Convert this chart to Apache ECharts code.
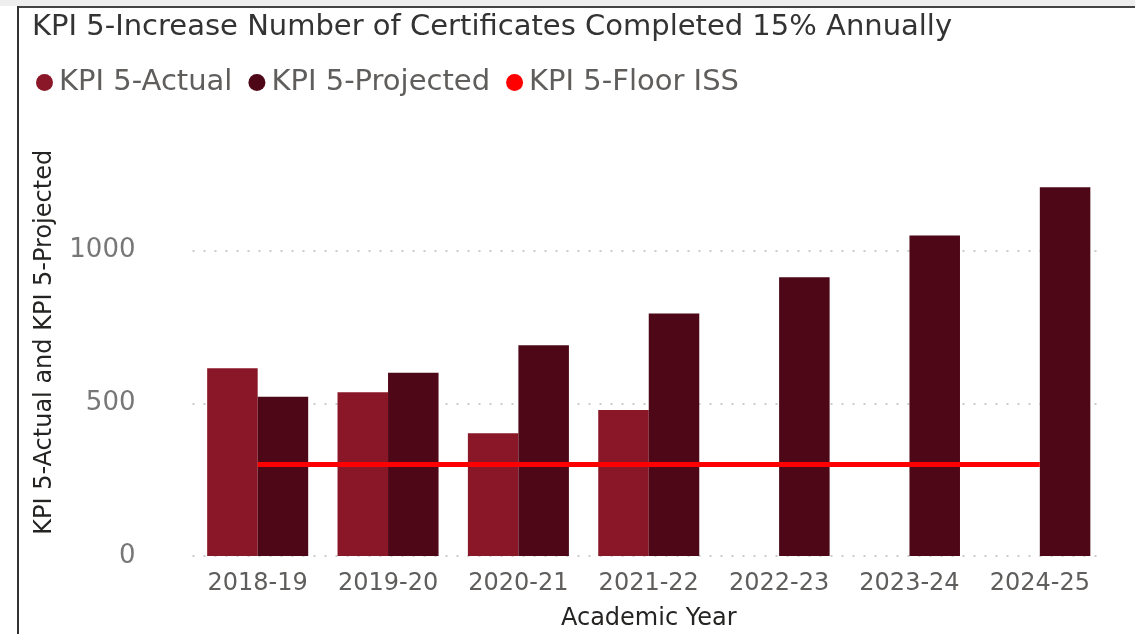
<!DOCTYPE html>
<html>
<head>
<meta charset="utf-8">
<script src="https://cdn.jsdelivr.net/npm/echarts@6/dist/echarts.min.js"></script>
<style>
  html, body { margin: 0; padding: 0; background: #fff; }
  #chart { width: 1135px; height: 634px; }
</style>
</head>
<body>
<div id="chart"></div>
<script>
var years = ['2018-19', '2019-20', '2020-21', '2021-22', '2022-23', '2023-24', '2024-25'];
var actual = [615, 536, 402, 478, null, null, null];
var projected = [522, 600, 690, 794, 913, 1050, 1208];
var floorIss = [300, 300, 300, 300, 300, 300, 300];
var yTicks = [0, 500, 1000];

var font = 'DejaVu Sans';
var chartDom = document.getElementById('chart');
var myChart = echarts.init(chartDom);
var option;

option = {
    title: {
        text: 'KPI 5-Increase Number of Certificates Completed 15% Annually',
        left: 27,
        top: 8,
        textStyle: { fontFamily: font, fontWeight: 'normal', fontSize: 29, color: '#333333' }
    },
    legend: {
        left: 31,
        top: 63,
        icon: 'circle',
        itemWidth: 17,
        itemHeight: 17,
        itemGap: 16,
        textStyle: { fontFamily: font, fontSize: 29, color: '#605E5C', padding: [0, 0, 0, 1] },
        data: ['KPI 5-Actual', 'KPI 5-Projected', 'KPI 5-Floor ISS']
    },
    grid: { left: 192.5, right: 30, top: 128.6, bottom: 78, outerBoundsMode: 'none' },
    xAxis: {
        type: 'category',
        data: years,
        axisLine: { show: false },
        axisTick: { show: false },
        axisLabel: { fontFamily: font, fontSize: 24, color: '#605E5C', margin: 16, interval: 0, hideOverlap: false },
        name: 'Academic Year',
        nameLocation: 'middle',
        nameGap: 51,
        nameTextStyle: { fontFamily: font, fontSize: 24, color: '#252423' }
    },
    yAxis: {
        type: 'value',
        min: 0,
        max: 1400,
        interval: 500,
        axisLine: { show: false },
        axisTick: { show: false },
        axisLabel: {
            fontFamily: font, fontSize: 26, color: '#777777', margin: 57, showMaxLabel: false,
            formatter: function (v) { return yTicks.indexOf(v) >= 0 ? v : ''; }
        },
        splitLine: { show: true, showMaxLine: false, lineStyle: { color: '#cccccc', width: 2, type: [2, 9] } },
        name: 'KPI 5-Actual and KPI 5-Projected',
        nameLocation: 'middle',
        nameGap: 136,
        nameTextStyle: { fontFamily: font, fontSize: 24, color: '#252423' }
    },
    series: [
        {
            name: 'KPI 5-Actual',
            type: 'bar',
            data: actual,
            barGap: '0%',
            barCategoryGap: '22.5%',
            itemStyle: { color: '#891727' }
        },
        {
            name: 'KPI 5-Projected',
            type: 'bar',
            data: projected,
            barGap: '0%',
            barCategoryGap: '22.5%',
            itemStyle: { color: '#4D0717' }
        },
        {
            name: 'KPI 5-Floor ISS',
            type: 'line',
            data: floorIss,
            showSymbol: false,
            symbol: 'circle',
            itemStyle: { color: '#FF0000' },
            lineStyle: { color: '#FF0000', width: 5 },
            z: 5
        }
    ],
    graphic: [
        { type: 'rect', left: 0, top: 0, shape: { width: 1135, height: 6 }, style: { fill: '#eeeeee' } },
        { type: 'rect', left: 17, top: 6, shape: { width: 1118, height: 2 }, style: { fill: '#444444' } },
        { type: 'rect', left: 17, top: 6, shape: { width: 2, height: 628 }, style: { fill: '#333333' } }
    ]
};

option && myChart.setOption(option);
</script>
</body>
</html>
